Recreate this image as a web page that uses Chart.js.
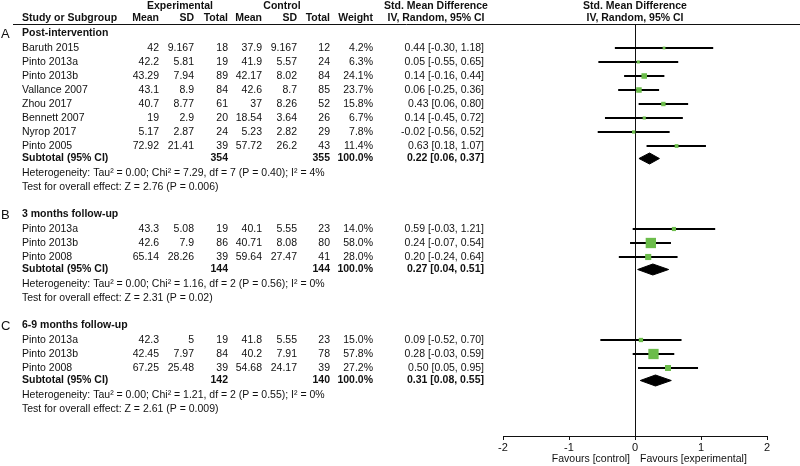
<!DOCTYPE html>
<html>
<head>
<meta charset="utf-8">
<script src="https://cdn.jsdelivr.net/npm/chart.js@4.4.1/dist/chart.umd.min.js"></script>
<style>
  html, body { margin: 0; padding: 0; background: #fff; }
</style>
</head>
<body>
<canvas id="forest" width="800" height="466"></canvas>
<script>
// Subgroups
const groupLetters = ['A', 'B', 'C'];
const groupNames = ['Post-intervention', '3 months follow-up', '6-9 months follow-up'];

// Studies (group index per study)
const studyGroup = [0, 0, 0, 0, 0, 0, 0, 0, 1, 1, 1, 2, 2, 2];
const studyNames = ['Baruth 2015', 'Pinto 2013a', 'Pinto 2013b', 'Vallance 2007', 'Zhou 2017', 'Bennett 2007', 'Nyrop 2017', 'Pinto 2005',
                    'Pinto 2013a', 'Pinto 2013b', 'Pinto 2008',
                    'Pinto 2013a', 'Pinto 2013b', 'Pinto 2008'];
const expMean = [42, 42.2, 43.29, 43.1, 40.7, 19, 5.17, 72.92, 43.3, 42.6, 65.14, 42.3, 42.45, 67.25];
const expSD = [9.167, 5.81, 7.94, 8.9, 8.77, 2.9, 2.87, 21.41, 5.08, 7.9, 28.26, 5, 7.97, 25.48];
const expN = [18, 19, 89, 84, 61, 20, 24, 39, 19, 86, 39, 19, 84, 39];
const ctlMean = [37.9, 41.9, 42.17, 42.6, 37, 18.54, 5.23, 57.72, 40.1, 40.71, 59.64, 41.8, 40.2, 54.68];
const ctlSD = [9.167, 5.57, 8.02, 8.7, 8.26, 3.64, 2.82, 26.2, 5.55, 8.08, 27.47, 5.55, 7.91, 24.17];
const ctlN = [12, 24, 84, 85, 52, 26, 29, 43, 23, 80, 41, 23, 78, 39];
const weights = [4.2, 6.3, 24.1, 23.7, 15.8, 6.7, 7.8, 11.4, 14.0, 58.0, 28.0, 15.0, 57.8, 27.2];
const smd = [0.44, 0.05, 0.14, 0.06, 0.43, 0.14, -0.02, 0.63, 0.59, 0.24, 0.20, 0.09, 0.28, 0.50];
const smdLo = [-0.30, -0.55, -0.16, -0.25, 0.06, -0.45, -0.56, 0.18, -0.03, -0.07, -0.24, -0.52, -0.03, 0.05];
const smdHi = [1.18, 0.65, 0.44, 0.36, 0.80, 0.72, 0.52, 1.07, 1.21, 0.54, 0.64, 0.70, 0.59, 0.95];

// Subtotals
const subExpN = [354, 144, 142];
const subCtlN = [355, 144, 140];
const subSmd = [0.22, 0.27, 0.31];
const subLo = [0.06, 0.04, 0.08];
const subHi = [0.37, 0.51, 0.55];
const tau2 = ['0.00', '0.00', '0.00'];
const chi2 = ['7.29', '1.16', '1.21'];
const hetDf = [7, 2, 2];
const hetP = ['0.40', '0.56', '0.55'];
const iSq = [4, 0, 0];
const zVal = ['2.76', '2.31', '2.61'];
const zP = ['0.006', '0.02', '0.009'];

// Axis
const xTicks = [-2, -1, 0, 1, 2];
const favourLabels = ['Favours [control]', 'Favours [experimental]'];

// ---- layout ----
const FONT = '"Liberation Sans", Arial, sans-serif';
const INK = '#111';
const GREEN = '#6cbd4b';
const Y_SPAN = 412;   // plot height in row units (1 unit = 1px)
const STEP = { first: 15, study: 14, subtotal: 12.5, het: 14.5, test: 14, gap: 27 };
const DIAMOND_H = 5.5;

// row positions, top to bottom
const rows = [];
const studyY = [];
let yPos = 9;
groupNames.forEach((name, g) => {
    if (g > 0) yPos += STEP.gap;
    rows.push({ kind: 'header', g: g, y: yPos });
    let first = true;
    studyGroup.forEach((sg, i) => {
        if (sg !== g) return;
        yPos += first ? STEP.first : STEP.study;
        first = false;
        studyY[i] = yPos;
        rows.push({ kind: 'study', g: g, i: i, y: yPos });
    });
    yPos += STEP.subtotal; rows.push({ kind: 'subtotal', g: g, y: yPos });
    yPos += STEP.het; rows.push({ kind: 'het', g: g, y: yPos });
    yPos += STEP.test; rows.push({ kind: 'test', g: g, y: yPos });
});
const subY = rows.filter(r => r.kind === 'subtotal').map(r => r.y);

const col = { name: 22, expMean: 159, expSD: 194, expN: 228, ctlMean: 262, ctlSD: 297, ctlN: 330, weight: 373, ci: 484 };

function ciText(e, lo, hi) {
    return e.toFixed(2) + ' [' + lo.toFixed(2) + ', ' + hi.toFixed(2) + ']';
}

// table text, header and footer labels
const tablePlugin = {
    id: 'forestTable',
    afterDraw(chart) {
        const ctx = chart.ctx;
        const ys = chart.scales.y;
        const xs = chart.scales.x;
        const reg = '10.5px ' + FONT;
        const bold = 'bold 10.5px ' + FONT;
        ctx.save();
        ctx.fillStyle = INK;
        ctx.textBaseline = 'middle';

        function txt(s, x, y, align, font) {
            ctx.font = font || reg;
            ctx.textAlign = align || 'left';
            ctx.fillText(String(s), x, y);
        }

        // column headers
        const zeroX = xs.getPixelForValue(0);
        txt('Experimental', 180, 6, 'center', bold);
        txt('Control', 282, 6, 'center', bold);
        txt('Std. Mean Difference', 436, 6, 'center', bold);
        txt('Std. Mean Difference', zeroX, 6, 'center', bold);
        txt('Study or Subgroup', col.name, 18, 'left', bold);
        txt('Mean', col.expMean, 18, 'right', bold);
        txt('SD', col.expSD, 18, 'right', bold);
        txt('Total', col.expN, 18, 'right', bold);
        txt('Mean', col.ctlMean, 18, 'right', bold);
        txt('SD', col.ctlSD, 18, 'right', bold);
        txt('Total', col.ctlN, 18, 'right', bold);
        txt('Weight', col.weight, 18, 'right', bold);
        txt('IV, Random, 95% CI', 436, 18, 'center', bold);
        txt('IV, Random, 95% CI', zeroX, 18, 'center', bold);

        ctx.strokeStyle = INK;
        ctx.lineWidth = 1;
        ctx.beginPath();
        ctx.moveTo(13, chart.chartArea.top + 0.5);
        ctx.lineTo(800, chart.chartArea.top + 0.5);
        ctx.stroke();

        rows.forEach(r => {
            const py = ys.getPixelForValue(r.y);
            const g = r.g;
            if (r.kind === 'header') {
                txt(groupLetters[g], 1, py + 1, 'left', '13px ' + FONT);
                txt(groupNames[g], col.name, py, 'left', bold);
            } else if (r.kind === 'study') {
                const i = r.i;
                txt(studyNames[i], col.name, py);
                txt(expMean[i], col.expMean, py, 'right');
                txt(expSD[i], col.expSD, py, 'right');
                txt(expN[i], col.expN, py, 'right');
                txt(ctlMean[i], col.ctlMean, py, 'right');
                txt(ctlSD[i], col.ctlSD, py, 'right');
                txt(ctlN[i], col.ctlN, py, 'right');
                txt(weights[i].toFixed(1) + '%', col.weight, py, 'right');
                txt(ciText(smd[i], smdLo[i], smdHi[i]), col.ci, py, 'right');
            } else if (r.kind === 'subtotal') {
                txt('Subtotal (95% CI)', col.name, py, 'left', bold);
                txt(subExpN[g], col.expN, py, 'right', bold);
                txt(subCtlN[g], col.ctlN, py, 'right', bold);
                txt('100.0%', col.weight, py, 'right', bold);
                txt(ciText(subSmd[g], subLo[g], subHi[g]), col.ci, py, 'right', bold);
            } else if (r.kind === 'het') {
                txt('Heterogeneity: Tau\u00B2 = ' + tau2[g] + '; Chi\u00B2 = ' + chi2[g] + ', df = ' + hetDf[g] +
                    ' (P = ' + hetP[g] + '); I\u00B2 = ' + iSq[g] + '%', col.name, py);
            } else if (r.kind === 'test') {
                txt('Test for overall effect: Z = ' + zVal[g] + ' (P = ' + zP[g] + ')', col.name, py);
            }
        });

        // favours labels under the axis
        txt(favourLabels[0], zeroX - 5, 459, 'right');
        txt(favourLabels[1], zeroX + 5, 459, 'left');
        ctx.restore();
    }
};

// datasets
const whiskers = {
    type: 'bar',
    indexAxis: 'y',
    data: smd.map((v, i) => ({ y: studyY[i], x: [smdLo[i], smdHi[i]] })),
    backgroundColor: '#000',
    borderWidth: 0,
    barThickness: 1.3,
    order: 3
};

const squares = {
    type: 'scatter',
    data: smd.map((v, i) => ({ x: v, y: studyY[i] })),
    pointStyle: 'rect',
    pointRadius: weights.map(w => (2.2 + 0.14 * w) / Math.SQRT2),
    pointHoverRadius: weights.map(w => (2.2 + 0.14 * w) / Math.SQRT2),
    backgroundColor: GREEN,
    borderWidth: 0,
    order: 2
};

const diamonds = subSmd.map((e, g) => ({
    type: 'line',
    data: [
        { x: subLo[g], y: subY[g] },
        { x: e, y: subY[g] - DIAMOND_H },
        { x: subHi[g], y: subY[g] },
        { x: e, y: subY[g] + DIAMOND_H },
        { x: subLo[g], y: subY[g] }
    ],
    borderColor: '#000',
    backgroundColor: '#000',
    borderWidth: 1,
    fill: 'shape',
    tension: 0,
    pointRadius: 0,
    pointHoverRadius: 0,
    order: 1
}));

new Chart(document.getElementById('forest'), {
    type: 'scatter',
    data: { datasets: [whiskers, squares].concat(diamonds) },
    options: {
        responsive: false,
        animation: false,
        events: [],
        layout: { padding: { left: 503, right: 33, top: 24, bottom: 0 } },
        plugins: { legend: { display: false }, tooltip: { enabled: false } },
        scales: {
            x: {
                type: 'linear',
                min: -2,
                max: 2,
                offset: false,
                afterBuildTicks: s => { s.ticks = xTicks.map(v => ({ value: v })); },
                afterFit: s => { s.height = 30; },
                ticks: { color: INK, font: { family: FONT, size: 11 }, padding: 1 },
                grid: {
                    color: c => (c.tick && c.tick.value === 0) ? INK : 'rgba(0,0,0,0)',
                    tickColor: INK,
                    tickLength: 4,
                    lineWidth: 1,
                    offset: false
                },
                border: { display: true, color: INK, width: 1 }
            },
            y: {
                type: 'linear',
                display: false,
                reverse: true,
                offset: false,
                min: 0,
                max: Y_SPAN
            }
        }
    },
    plugins: [tablePlugin]
});
</script>
</body>
</html>
